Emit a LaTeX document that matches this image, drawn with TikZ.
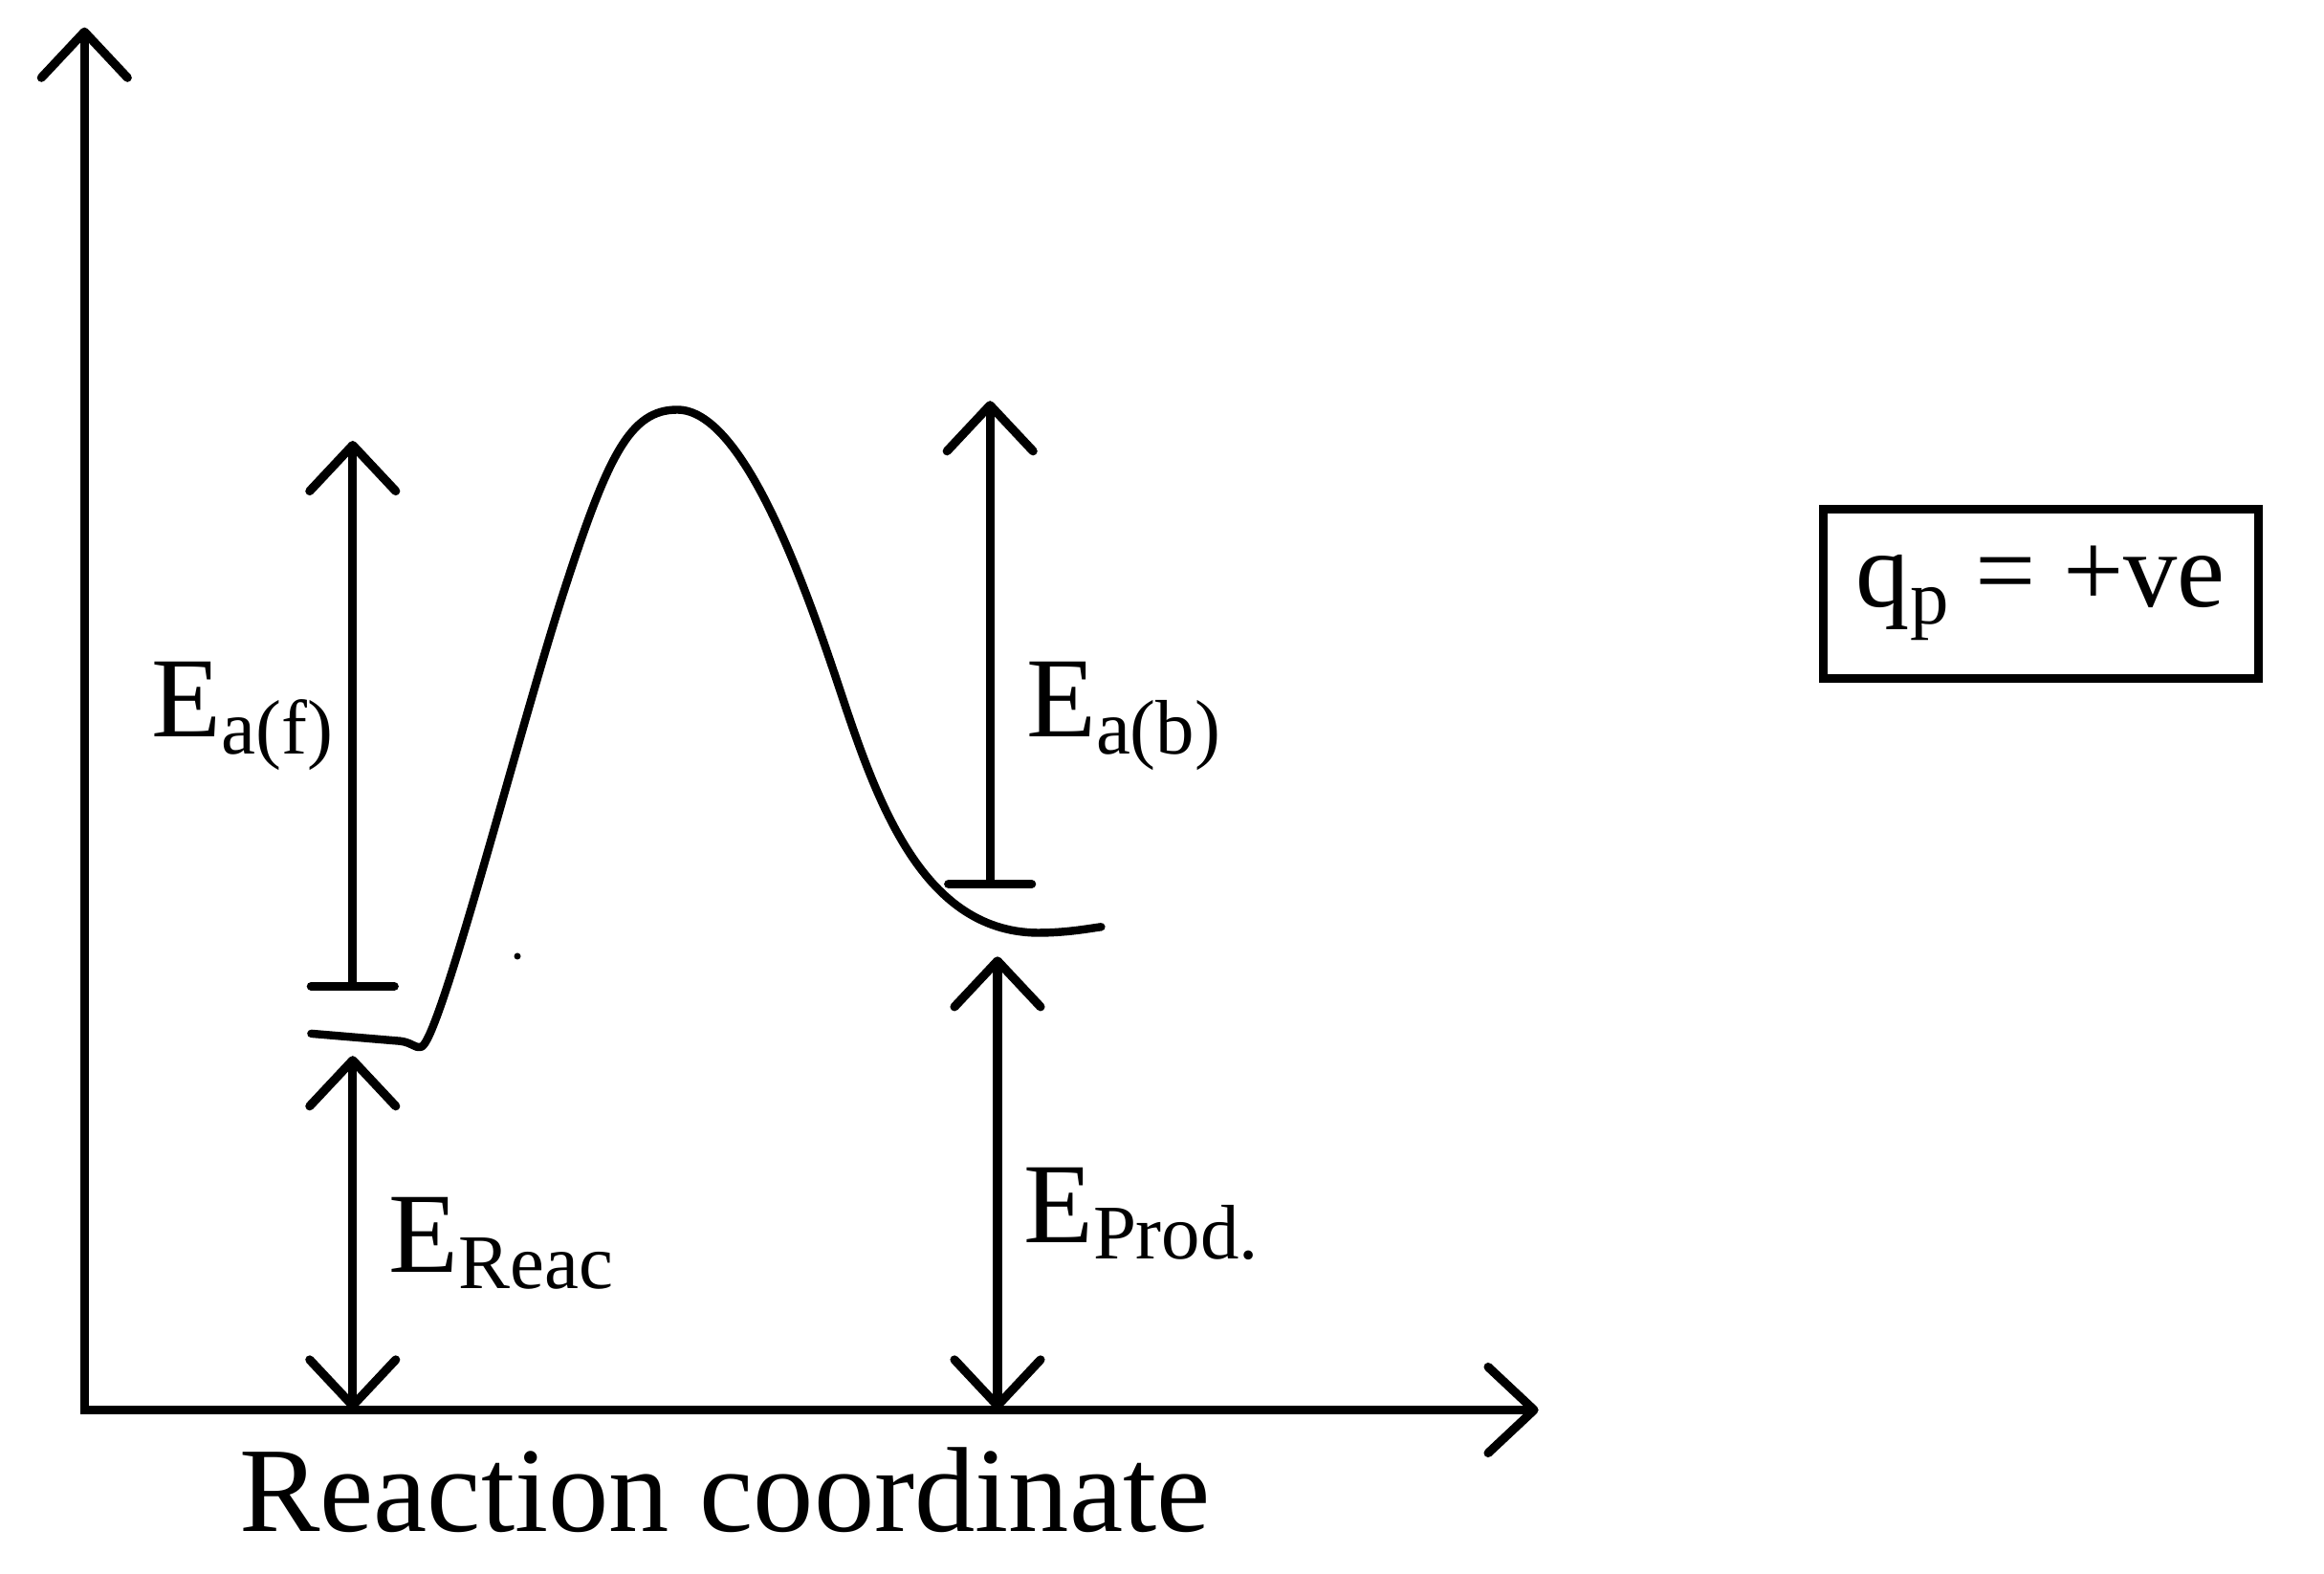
\documentclass[tikz,border=0pt]{standalone}
\usepackage{fontspec}
\setmainfont{Liberation Serif}
\usetikzlibrary{arrows.meta}
\newcommand{\lowsub}[1]{\raisebox{-5pt}{\fontsize{23}{23}\selectfont #1}}
\tikzset{
  barb/.tip={Straight Barb[length=4.8mm, width=9mm, round]},
  flat/.tip={Bar[width=8.7mm, round]}
}
\begin{document}
\begin{tikzpicture}[
  every node/.style={font=\fontsize{34}{40}\selectfont, inner sep=0pt},
  axis/.style={line width=2.6pt, line join=miter, {barb}-{barb}},
  span/.style={line width=2.6pt, {barb}-{barb}},
  barrier/.style={line width=2.6pt, {flat}-{barb}},
  curve/.style={line width=2.4pt, line cap=round, line join=round},
  qbox/.style={draw, line width=2.6pt, minimum width=4.55cm, minimum height=1.77cm,
    font=\fontsize{32}{36}\selectfont}
]
\useasboundingbox (0,0) rectangle (24.3,16.45);
% axes
\coordinate (O) at (0.883,1.705);
\coordinate (ytip) at (0.883,16.163);
\coordinate (xtip) at (16.086,1.705);
\draw[axis] (ytip) -- (O) -- (xtip);
% energy profile
\draw[curve] (3.254,5.641) -- (4.184,5.563)
  .. controls (4.308,5.548) and (4.339,5.486) .. (4.401,5.501)
  .. controls (4.587,5.517) and (5.424,8.802) .. (5.889,10.244)
  .. controls (6.354,11.685) and (6.586,12.165) .. (7.082,12.165)
  .. controls (7.749,12.165) and (8.368,10.476) .. (8.756,9.314)
  .. controls (9.143,8.151) and (9.608,6.710) .. (10.848,6.695)
  .. controls (11.158,6.695) and (11.390,6.741) .. (11.514,6.757);
\fill (5.41,6.45) circle (0.035);
% reactant side
\coordinate (af0) at (3.688,6.090);
\coordinate (af1) at (3.688,11.840);
\coordinate (re0) at (3.688,1.705);
\coordinate (re1) at (3.688,5.408);
\draw[barrier] (af0) -- (af1);
\draw[span] (re0) -- (re1);
% product side
\coordinate (ab0) at (10.352,7.160);
\coordinate (ab1) at (10.352,12.258);
\coordinate (pr0) at (10.430,1.705);
\coordinate (pr1) at (10.430,6.447);
\draw[barrier] (ab0) -- (ab1);
\draw[span] (pr0) -- (pr1);
% labels
\node[anchor=base west] (eaf) at (1.581,8.740) {E\lowsub{a(f)}};
\node[anchor=base west] (eab) at (10.724,8.740) {E\lowsub{a(b)}};
\node[anchor=base west] (ereac) at (4.060,3.146) {E\lowsub{Reac}};
\node[anchor=base west] (eprod) at (10.693,3.456) {E\lowsub{Prod.}};
\node[anchor=base, font=\fontsize{36}{40}\selectfont] (xlbl) at (7.578,0.434) {Reaction coordinate};
\node[qbox] (qp) at (21.339,10.244) {q\lowsub{p} = +ve};
\end{tikzpicture}
\end{document}
